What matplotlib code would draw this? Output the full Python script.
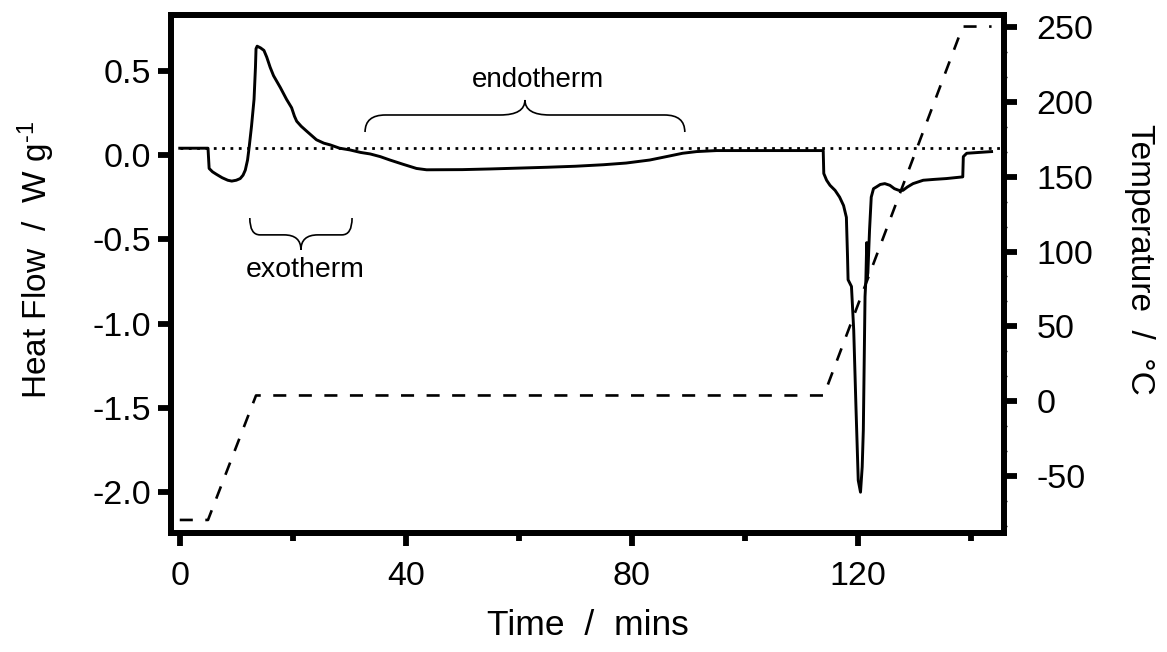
import matplotlib
matplotlib.use('Agg')
import matplotlib.pyplot as plt
from matplotlib.path import Path
from matplotlib.patches import PathPatch
from matplotlib.ticker import FixedLocator, AutoMinorLocator

plt.rcParams['font.family'] = ['Liberation Sans', 'DejaVu Sans']
plt.rcParams['mathtext.fontset'] = 'custom'
plt.rcParams['mathtext.rm'] = 'Liberation Sans'
plt.rcParams['mathtext.it'] = 'Liberation Sans:italic'
plt.rcParams['axes.unicode_minus'] = False

# ---------------- data ----------------
time_hf = [0, 5.0, 5.1, 5.2, 5.8, 6.5, 7.5, 8.5, 9.2, 10.0, 10.7, 11.2, 11.6, 12.0,
           12.3, 12.7, 13.15, 13.4, 13.5, 13.7, 14.3, 14.9, 15.4, 16.0, 16.6, 17.8,
           18.9, 19.8, 20.3, 20.7, 21.5, 22.5, 24.2, 25.5, 26.6, 28.3, 30.1, 32.0,
           33.7, 35.5, 37.2, 39.5, 41.9, 43.7, 50, 55, 60, 65, 70, 75, 79, 83.2,
           86.7, 89.0, 91.5, 95, 113.9, 114.0, 114.5, 115.1, 116.0, 116.8, 117.5,
           118.0, 118.2, 118.3, 118.9, 119.3, 119.7, 120.1, 120.5, 120.8, 121.0,
           121.3, 121.45, 121.6, 121.7, 121.8, 122.1, 122.4, 122.8, 123.3, 124.0,
           124.8, 125.7, 126.5, 127.3, 128.0, 128.8, 129.8, 130.7, 131.6, 133.5,
           135.7, 138.6, 138.7, 139.3, 143.7]
heat_flow = [0.04, 0.04, -0.02, -0.08, -0.10, -0.115, -0.135, -0.15, -0.155, -0.15,
             -0.14, -0.12, -0.09, -0.03, 0.05, 0.17, 0.33, 0.52, 0.63, 0.645, 0.635,
             0.62, 0.58, 0.52, 0.47, 0.40, 0.33, 0.28, 0.23, 0.20, 0.17, 0.14, 0.09,
             0.07, 0.06, 0.04, 0.03, 0.015, 0.006, -0.01, -0.03, -0.055, -0.08,
             -0.088, -0.087, -0.083, -0.078, -0.073, -0.067, -0.058, -0.048, -0.03,
             -0.006, 0.01, 0.02, 0.026, 0.026, -0.11, -0.15, -0.18, -0.21, -0.25,
             -0.30, -0.37, -0.60, -0.74, -0.78, -1.04, -1.50, -1.93, -2.0, -1.85,
             -1.63, -0.84, -0.74, -0.52, -0.72, -0.70, -0.445, -0.25, -0.20, -0.19,
             -0.175, -0.17, -0.18, -0.20, -0.21, -0.21, -0.19, -0.17, -0.16, -0.15,
             -0.145, -0.14, -0.13, -0.01, 0.01, 0.02]

time_temp = [0, 5, 13.5, 114, 138.6, 143.7]
temperature = [-79, -79, 4, 4, 250, 250]

baseline_time = [0, 145.2]
baseline_hf = [0.04, 0.04]

x_ticks = [0, 40, 80, 120]
x_minor = [20, 60, 100, 140]
hf_ticks = [0.5, 0.0, -0.5, -1.0, -1.5, -2.0]
temp_ticks = [250, 200, 150, 100, 50, 0, -50]

endo_label = 'endotherm'
exo_label = 'exotherm'

# ---------------- figure ----------------
W, H = 1167, 652
fig = plt.figure(figsize=(W / 100, H / 100), dpi=100)
L, R, T, B = 171, 1004, 15, 533
ax = fig.add_axes([L / W, 1 - B / H, (R - L) / W, (B - T) / H])
ax2 = ax.twinx()

ax.set_xlim(-1.55, 145.9)
ax.set_ylim(-2.242, 0.830)
ax2.set_ylim(-87.7, 257.7)

# lines
ax.plot(baseline_time, baseline_hf, color='black', lw=2.0, linestyle=(0, (1, 2)),
        zorder=2)
ax.plot(time_hf, heat_flow, color='black', lw=2.1, zorder=3,
        solid_joinstyle='round')
lw_t = 1.9
ax2.plot(time_temp, temperature, color='black', lw=lw_t,
         linestyle=(0, (9.4 / lw_t, 9.0 / lw_t)), zorder=2)


def brace(axis, x0, x1, y_end, y_flat, y_tip, rx, rm):
    xm = 0.5 * (x0 + x1)
    verts = [(x0, y_end), (x0, y_flat), (x0 + rx, y_flat),
             (xm - rm, y_flat), (xm, y_flat), (xm, y_tip),
             (xm, y_flat), (xm + rm, y_flat),
             (x1 - rx, y_flat), (x1, y_flat), (x1, y_end)]
    codes = [Path.MOVETO, Path.CURVE3, Path.CURVE3,
             Path.LINETO, Path.CURVE3, Path.CURVE3,
             Path.CURVE3, Path.CURVE3,
             Path.LINETO, Path.CURVE3, Path.CURVE3]
    axis.add_patch(PathPatch(Path(verts, codes), fill=False, lw=1.2,
                             edgecolor='black', zorder=4))


brace(ax, 32.8, 89.4, 0.136, 0.237, 0.326, 3.6, 4.4)
brace(ax, 12.4, 30.5, -0.374, -0.474, -0.563, 1.8, 3.0)
ax.text(63.4, 0.405, endo_label, fontsize=20, ha='center', va='baseline')
ax.text(22.2, -0.724, exo_label, fontsize=20.5, ha='center', va='baseline')

# ticks
ax.xaxis.set_major_locator(FixedLocator(x_ticks))
ax.xaxis.set_minor_locator(FixedLocator(x_minor))
ax.set_xticklabels([str(v) for v in x_ticks])
ax.yaxis.set_major_locator(FixedLocator(hf_ticks))
ax.set_yticklabels([f'{v:.1f}' for v in hf_ticks])
ax.yaxis.set_minor_locator(AutoMinorLocator(3))
ax2.yaxis.set_major_locator(FixedLocator(temp_ticks))
ax2.set_yticklabels([str(v) for v in temp_ticks])
ax2.yaxis.set_minor_locator(AutoMinorLocator(3))

for a in (ax, ax2):
    for s in a.spines.values():
        s.set_linewidth(4.2)
        s.set_capstyle('projecting')

ax.tick_params(axis='x', which='major', length=9.5, width=4.2, labelsize=24.5, pad=11)
ax.tick_params(axis='x', which='minor', length=6, width=4.2)
ax.tick_params(axis='y', which='major', length=9.5, width=4.2, labelsize=24.5, pad=5)
ax.tick_params(axis='y', which='minor', length=2.5, width=1)
ax2.tick_params(axis='y', which='major', length=9.5, width=4.2, labelsize=24.5, pad=14)
ax2.tick_params(axis='y', which='minor', length=2.5, width=1)

ax.set_xlabel('Time  /  mins', fontsize=25.5, labelpad=12)
ax.set_ylabel('Heat Flow  /  W g$^{\\mathregular{\u20101}}$', fontsize=24)
ax.yaxis.set_label_coords(-0.137, 0.527)
ax2.set_ylabel('Temperature  /  °C', fontsize=24, rotation=270)
ax2.yaxis.set_label_coords(1.181, 0.529)

fig.savefig('out.png', dpi=100)
